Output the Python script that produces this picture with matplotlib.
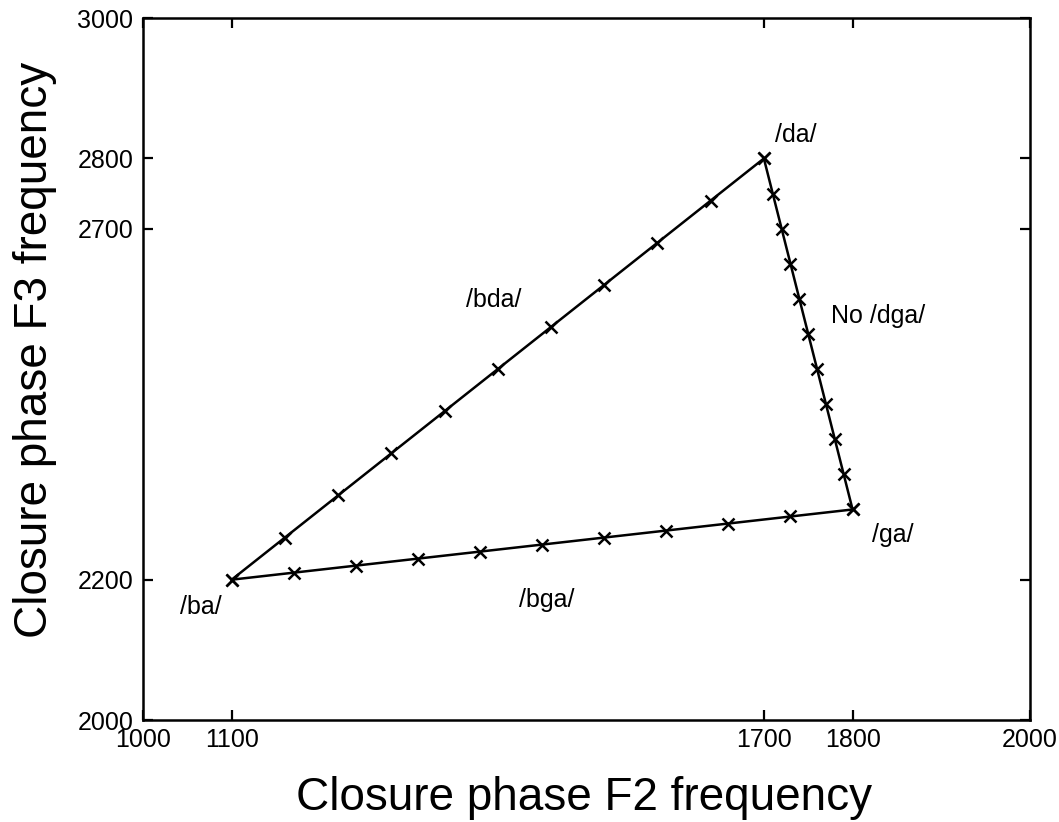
import matplotlib.pyplot as plt

plt.rcParams['font.family'] = ['Liberation Sans', 'DejaVu Sans']

# Continuum /ba/ -> /da/
bda_f2 = [1100, 1160, 1220, 1280, 1340, 1400, 1460, 1520, 1580, 1640, 1700]
bda_f3 = [2200, 2260, 2320, 2380, 2440, 2500, 2560, 2620, 2680, 2740, 2800]

# Continuum /ba/ -> /ga/
bga_f2 = [1100, 1170, 1240, 1310, 1380, 1450, 1520, 1590, 1660, 1730, 1800]
bga_f3 = [2200, 2210, 2220, 2230, 2240, 2250, 2260, 2270, 2280, 2290, 2300]

# Continuum /da/ -> /ga/
dga_f2 = [1700, 1710, 1720, 1730, 1740, 1750, 1760, 1770, 1780, 1790, 1800]
dga_f3 = [2800, 2750, 2700, 2650, 2600, 2550, 2500, 2450, 2400, 2350, 2300]

xticks = [1000, 1100, 1700, 1800, 2000]
yticks = [2000, 2200, 2700, 2800, 3000]

fig = plt.figure(figsize=(10.59, 8.22), dpi=100)
ax = fig.add_axes([0.135, 0.124, 0.8376, 0.854])

for f2, f3 in [(bda_f2, bda_f3), (bga_f2, bga_f3), (dga_f2, dga_f3)]:
    ax.plot(f2, f3, 'k-x', linewidth=1.8, markersize=9, markeredgewidth=1.8)

txt = dict(fontsize=18, color='black', va='center')
ax.text(1713, 2833, '/da/', **txt)
ax.text(1364, 2598, '/bda/', **txt)
ax.text(1776, 2575, 'No /dga/', **txt)
ax.text(1822, 2264, '/ga/', **txt)
ax.text(1424, 2171, '/bga/', **txt)
ax.text(1042, 2161, '/ba/', **txt)

ax.set_xlim(1000, 2000)
ax.set_ylim(2000, 3000)
ax.set_xticks(xticks)
ax.set_yticks(yticks)
ax.tick_params(direction='in', top=True, right=True, length=7, width=1.6,
               labelsize=18)
ax.tick_params(axis='y', pad=7)
ax.tick_params(axis='x', pad=6)
for s in ax.spines.values():
    s.set_linewidth(1.8)

ax.set_xlabel('Closure phase F2 frequency', fontsize=33)
ax.set_ylabel('Closure phase F3 frequency', fontsize=33)
ax.xaxis.set_label_coords(0.497, -0.080)
ax.yaxis.set_label_coords(-0.097, 0.527)

fig.savefig('out.png', dpi=100)
